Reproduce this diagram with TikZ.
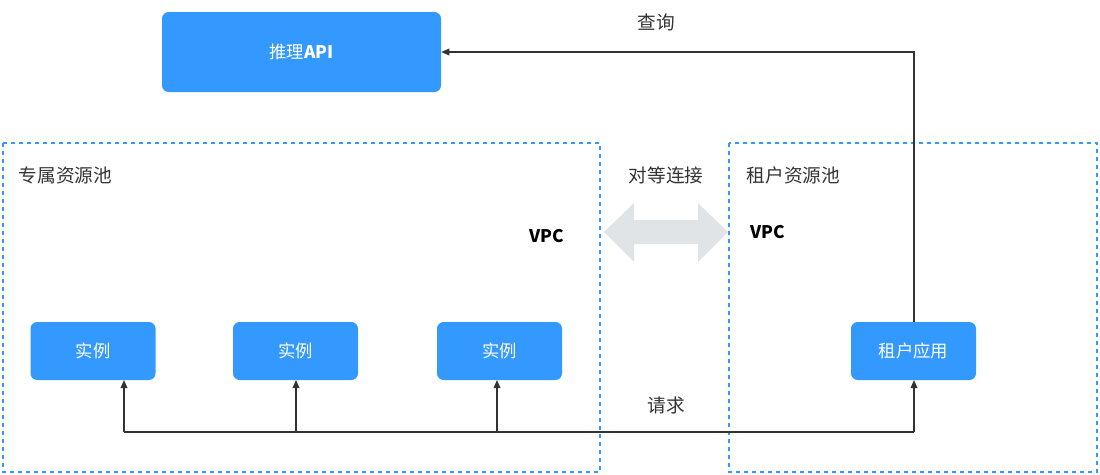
\documentclass[tikz,border=0pt]{standalone}
\usepackage{fontspec}
\setmainfont{Noto Sans CJK SC}
\usetikzlibrary{arrows.meta}
\definecolor{bl}{HTML}{3399FF}
\definecolor{ln}{HTML}{333333}
\definecolor{gr}{HTML}{E1E4E6}
\begin{document}
\begin{tikzpicture}[x=0.75pt,y=-0.75pt,
 box/.style={fill=bl,draw=none,rounded corners=5pt,text=white,font=\fontsize{13}{15}\selectfont},
 pool/.style={draw=bl,dashed,line width=0.9pt},
 lab/.style={font=\fontsize{14}{16}\selectfont,text=ln},
 vpc/.style={font=\fontsize{13}{15}\selectfont\bfseries,text=black},
 con/.style={draw=ln,line width=0.9pt},
 arr/.style={con,-{Triangle[length=6pt,width=5pt]}}]
\useasboundingbox (0,0) rectangle (1100,475);
\node[box,minimum width=279*0.75pt,minimum height=80*0.75pt] (api) at (301.5,52) {推理\textbf{API}};
\draw[pool] (3,143) rectangle (600,472);
\draw[pool] (729,143) rectangle (1097,472);
\node[lab,anchor=west] (p1) at (14,175) {专属资源池};
\node[lab,anchor=west] (p2) at (742,175) {租户资源池};
\node[lab] (peer) at (666,175) {对等连接};
\node[vpc] (v1) at (547,236) {VPC};
\node[vpc] (v2) at (768,232) {VPC};
\fill[gr] (604,232) -- (634,203) -- (634,220) -- (698,220) -- (698,203) -- (728,232) -- (698,262) -- (698,244) -- (634,244) -- (634,262) -- cycle;
\foreach \n/\x in {i1/93,i2/295.5,i3/499.5,app/913.5}{
 \node[box,minimum width=125*0.75pt,minimum height=58*0.75pt] (\n) at (\x,351) {};}
\node[box] at (i1) {实例};
\node[box] at (i2) {实例};
\node[box] at (i3) {实例};
\node[box] at (app) {租户应用};
\coordinate (c1) at (124,432);
\coordinate (c2) at (296,432);
\coordinate (c3) at (497,432);
\coordinate (c4) at (914,432);
\coordinate (c5) at (914,52);
\draw[con] (c1) -- (c4);
\draw[arr] (c1) -- (124,380);
\draw[arr] (c2) -- (296,380);
\draw[arr] (c3) -- (497,380);
\draw[arr] (c4) -- (914,380);
\draw[arr] (914,322) -- (c5) -- (api.east);
\node[lab] (q) at (656,22) {查询};
\node[lab] (r) at (666,405) {请求};
\end{tikzpicture}
\end{document}
